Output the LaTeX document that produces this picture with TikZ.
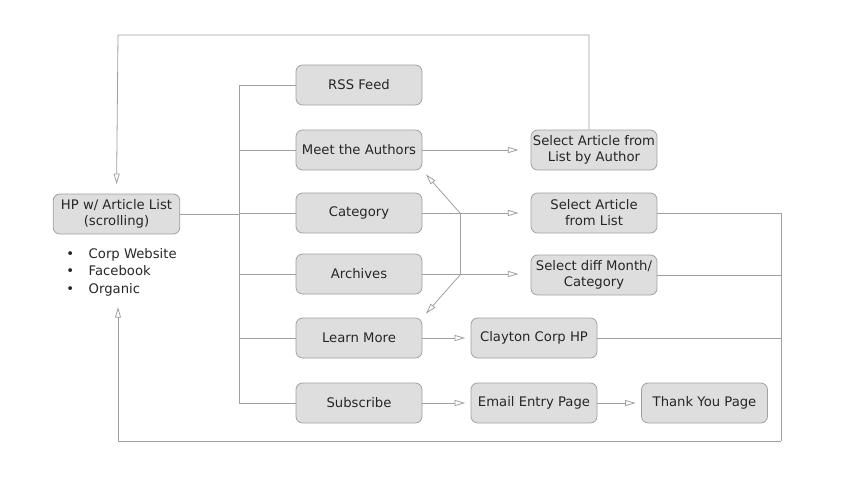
\documentclass[tikz,border=0pt]{standalone}
\usepackage{fontspec}
\setmainfont{DejaVu Sans}
\usetikzlibrary{arrows.meta, positioning, calc}
\definecolor{boxfill}{RGB}{222,222,222}
\definecolor{boxline}{RGB}{160,160,160}
\definecolor{wireline}{RGB}{160,160,160}

\begin{document}
\begin{tikzpicture}[
    x=0.75pt, y=-0.75pt,
    page/.style={rectangle, rounded corners=5pt, draw=boxline, fill=boxfill, line width=0.6pt,
        minimum width=94.5pt, minimum height=30pt, inner sep=1pt, align=center,
        font=\fontsize{9.9}{12}\selectfont, text=black!85},
    link/.style={draw=wireline, line width=0.6pt},
    arrow/.style={link, -{Triangle[open, length=8pt, width=4.5pt]}, shorten >=4pt},
    farrow/.style={arrow, shorten >=9pt}
]
    \useasboundingbox (0,0) rectangle (853,479);

    % home page and sources
    \node[page, minimum width=95pt] (hp) at (116.5,214) {HP w/ Article List\\(scrolling)};
    \node[anchor=north west, inner sep=0pt, font=\fontsize{9.9}{13}\selectfont, text=black!85] (srcs) at (66,246)
        {\begin{tabular}{@{}l@{\hspace{11pt}}l@{}}
            \textbullet & Corp Website\\
            \textbullet & Facebook\\
            \textbullet & Organic
        \end{tabular}};

    % middle column
    \node[page] (rss)   at (359,85)  {RSS Feed};
    \node[page] (meet)  at (359,150) {Meet the Authors};
    \node[page] (cat)   at (359,213) {Category};
    \node[page] (arch)  at (359,274) {Archives};
    \node[page] (learn) at (359,338) {Learn More};
    \node[page] (subs)  at (359,403) {Subscribe};

    % right columns
    \node[page] (byauthor)  at (594,150) {Select Article from\\List by Author};
    \node[page] (fromlist)  at (594,213) {Select Article\\from List};
    \node[page] (diffmonth) at (594,275) {Select diff Month/\\Category};
    \node[page] (clayton)   at (534,338) {Clayton Corp HP};
    \node[page] (email)     at (534,403) {Email Entry Page};
    \node[page] (thanks)    at (704.5,403) {Thank You Page};

    \coordinate (trunk) at (239,0);
    \coordinate (topleft) at (118,35);
    \coordinate (botleft) at (118,441);
    \coordinate (botright) at (781,441);
    \coordinate (hpbot) at (118,307);
    \coordinate (vtop) at (460,213);
    \coordinate (vbot) at (460,275);

    % trunk and branches
    \draw[link] (trunk |- rss.west) -- (trunk |- subs.west);
    \draw[link] (hp.east) -- (hp.east -| trunk);
    \foreach \n in {rss,meet,cat,arch,learn,subs}
        \draw[link] (\n.west) -- (\n.west -| trunk);

    \draw[farrow] (meet.east) -- (byauthor.west);
    \draw[farrow] (cat.east) -- (fromlist.west);
    \draw[farrow] (arch.east) -- (arch.east -| diffmonth.west);
    \draw[arrow] (learn.east) -- (clayton.west);
    \draw[arrow] (subs.east) -- (email.west);
    \draw[arrow] (email.east) -- (thanks.west);

    % back links between sections
    \draw[link] (vtop) -- (vbot);
    \draw[arrow] (vtop) -- (meet.south east);
    \draw[arrow] (vbot) -- (learn.north east);

    % loops back to home page
    \draw[arrow, shorten >=7pt] ($(byauthor.north)+(-5,0)$) |- (topleft) -- (hp.north);
    \draw[link] (fromlist.east) -| (botright);
    \draw[link] (diffmonth.east) -- (diffmonth.east -| botright);
    \draw[link] (clayton.east) -- (clayton.east -| botright);
    \draw[link] ($(thanks.south)+(5,0)$) -- ($(thanks.south)+(5,0)$ |- botright);
    \draw[arrow, shorten >=0pt] (botright) -- (botleft) -- (hpbot);
\end{tikzpicture}
\end{document}
